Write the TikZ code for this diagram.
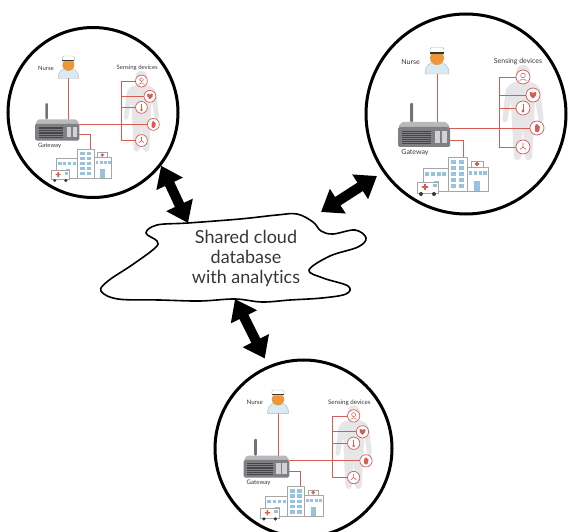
\documentclass[tikz,border=0pt]{standalone}
\usepackage{fontspec}
\setmainfont{Lato}[Ligatures={NoCommon}]
\usetikzlibrary{arrows.meta}

\definecolor{wirered}{RGB}{214,92,84}
\definecolor{skin}{RGB}{238,150,60}
\definecolor{glass}{RGB}{150,196,222}
\definecolor{steel}{RGB}{128,128,132}
\definecolor{patientgray}{RGB}{230,230,232}
\definecolor{ink}{RGB}{55,55,55}

\tikzset{
  ward/.style={circle,draw,line width=3pt,inner sep=0pt},
  wire/.style={wirered,line width=0.8pt},
  sensor/.style={wirered,line width=0.7pt,fill=white},
  tag/.style={ink,font=\fontsize{7}{8}\selectfont,inner sep=1pt},
  dbl/.style={line width=10pt,arrows={Triangle[width=28pt,length=20pt]-Triangle[width=28pt,length=20pt]}},
  wing/.style={fill=white,draw=gray!70,line width=0.5pt},
  pane/.style={fill=glass},
  % one ward: nurse, gateway, hospital and the patient's sensors
  station/.pic={
    % patient
    \fill[patientgray] (57,-42) circle (7);
    \fill[patientgray,rounded corners=3] (47,-32) -- (67,-32) -- (74,-26) -- (78,8) -- (73,9) -- (69,-14)
      -- (68,10) -- (66,46) -- (59,46) -- (57,14) -- (55,46) -- (48,46) -- (46,10) -- (45,-14)
      -- (41,9) -- (36,8) -- (40,-26) -- cycle;
    % wires
    \draw[wire] (33,-37) -- (33,33);
    \draw[wire] (-29,-40) -- (-29,13);
    \draw[wire] (-16,14) -- (64,14);
    \draw[wire] (-16,26) -- (-3,26) -- (-3,43);
    \foreach \x/\y in {57/-37,67/-19,57/-6,71/14,57/33} {
      \draw[wire] (33,\y) -- (\x-7,\y);
      \draw[sensor] (\x,\y) circle (7);
    }
    % sensor glyphs
    \begin{scope}[shift={(57,-37)},wirered,line width=0.5pt]
      \draw (0,-1.5) circle (2.3);
      \draw (-3.5,4) .. controls (-2,1.5) and (2,1.5) .. (3.5,4);
    \end{scope}
    \fill[wirered,shift={(67,-19)}] (0,3.5) .. controls (-6,-1) and (-3,-5.5) .. (0,-2)
      .. controls (3,-5.5) and (6,-1) .. (0,3.5);
    \begin{scope}[shift={(57,-6)},wirered]
      \draw[line width=1pt] (0,-4) -- (0,2);
      \fill (0,3) circle (1.6);
    \end{scope}
    \fill[wirered,rounded corners=1,shift={(71,14)}] (-2,4) -- (-2,-2) -- (-1,-4) -- (1,-4) -- (2,-1) -- (3,-2) -- (2,4) -- cycle;
    \draw[wirered,line width=0.6pt,shift={(57,33)}] (0,0) -- (-3,2.5) (0,0) -- (3,2.5) (0,0) -- (0,-4);
    % nurse
    \fill[glass!35,draw=gray!60,line width=0.4pt] (-41,-40) .. controls (-41,-49) and (-36,-52) .. (-29,-52)
      .. controls (-22,-52) and (-17,-49) .. (-17,-40) -- cycle;
    \fill[skin] (-29,-56) circle (7);
    \fill[white,draw=gray!60,line width=0.4pt,rounded corners=1.5] (-36,-60.5) rectangle (-22,-66.5);
    \fill[ink] (-36,-61.8) rectangle (-22,-60.3);
    % gateway
    \fill[steel!55,rounded corners=1] (-64,8) -- (-20,8) -- (-16,13) -- (-68,13) -- cycle;
    \fill[steel!90!black,rounded corners=1] (-56,-11) rectangle (-53,8);
    \fill[steel,rounded corners=1.5] (-68,13) rectangle (-16,33);
    \foreach \v in {17,19,...,29}
      \draw[steel!55!black,line width=0.5pt] (-64,\v) -- (-35,\v);
    \fill[steel!35] (-31,17) rectangle (-26,29);
    \fill[steel!35] (-24,17) rectangle (-19,29);
    % hospital
    \draw[wing] (-43,54) rectangle (-18,77);
    \foreach \i in {0,...,3}
      \fill[pane] (-41+\i*5.8,58) rectangle ++(4,4);
    \fill[pane] (-32,67) rectangle (-27,77);
    \draw[wing] (1,53) rectangle (22,77);
    \foreach \i in {0,...,3}
      \fill[pane] (3+\i*4.8,57) rectangle ++(3.4,4);
    \fill[pane] (8,67) rectangle (14,77);
    \draw[wing] (5,47) rectangle (17,53);
    \fill[wirered] (10.2,48) rectangle (11.8,52) (9,49.2) rectangle (13,50.8);
    \draw[wing] (-18,43) rectangle (1,77);
    \foreach \r in {0,...,4}
      \foreach \c in {0,1}
        \fill[pane] (-15+\c*8,46+\r*6) rectangle ++(5,4);
    % ambulance
    \draw[wing] (-49,68) rectangle (-28,79);
    \fill[pane] (-33,70) rectangle (-29.5,73);
    \fill[wirered] (-41.8,70) rectangle (-40.2,76) (-44,72.2) rectangle (-38,73.8);
    \fill[ink] (-45,80) circle (2) (-32,80) circle (2);
    % labels
    \node[tag,anchor=east] (-nurse) at (-45,-52) {Nurse};
    \node[tag] (-gateway) at (-51,39) {Gateway};
    \node[tag] (-sensing) at (52,-52) {Sensing devices};
  }
}

\begin{document}
\begin{tikzpicture}[x=1pt,y=-1pt]
  \useasboundingbox (0,0) rectangle (568,532);

  \node[ward,minimum size=170pt] (ward1) at (93,112.5) {};
  \node[ward,minimum size=200pt] (ward2) at (466,114) {};
  \node[ward,minimum size=177pt] (ward3) at (303.5,448.5) {};

  \pic[scale=0.85,transform shape] (w1) at (ward1) {station};
  \pic[transform shape] (w2) at (ward2) {station};
  \pic[scale=0.88,transform shape] (w3) at (ward3) {station};

  % cloud
  \draw[line width=1.6pt,fill=white] plot[smooth cycle,tension=0.6] coordinates {
    (146,233) (157,225) (188,223) (240,219) (277,215) (297,214) (313,222) (321,231)
    (333,234) (355,230) (366,238) (358,247) (330,256) (309,270) (323,278) (348,286)
    (346,294) (322,298) (290,300) (262,302) (235,299) (200,301) (160,300) (118,299)
    (101,291) (108,281) (132,265) (155,248) (157,241)};
  \node[text=ink,align=center,font=\fontsize{18}{20}\selectfont] (cloud) at (246,258)
    {Shared cloud\\database\\with analytics};

  \coordinate (in1) at (188,223);
  \coordinate (in2) at (321,212);
  \coordinate (in3) at (235,299);

  \draw[dbl] (ward1.-38) -- (in1);
  \draw[dbl,shorten <=7pt] (ward2.215) -- (in2);
  \draw[dbl,shorten >=8pt] (in3) -- (ward3.113);
\end{tikzpicture}
\end{document}
